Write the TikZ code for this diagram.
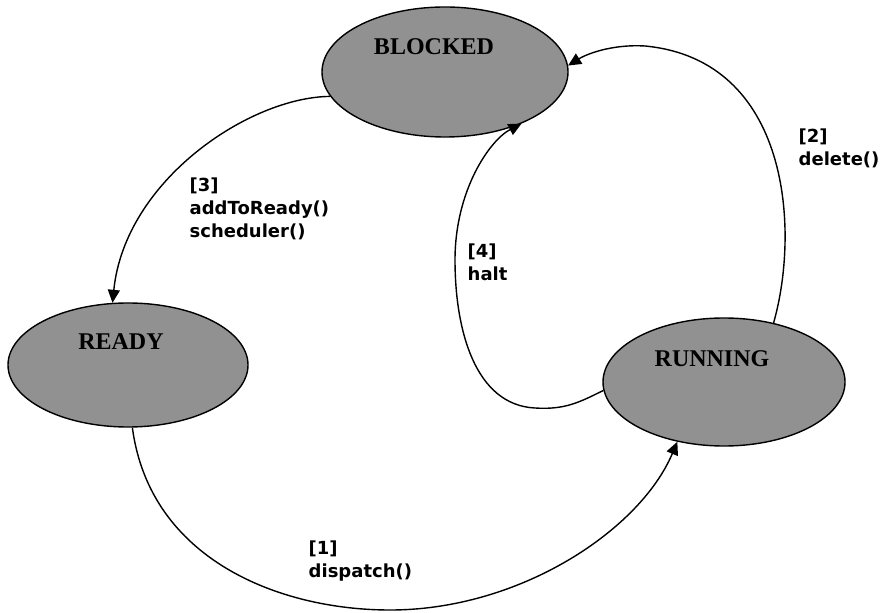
\documentclass[tikz,border=0pt]{standalone}
\usepackage{fontspec}
\setmainfont{Liberation Serif}
\newfontfamily\lblfont{DejaVu Sans}
\usepackage{tikz}
\usetikzlibrary{arrows.meta,shapes.geometric}
\definecolor{stategray}{RGB}{145,145,145}

\begin{document}
\begin{tikzpicture}[x=0.5pt,y=-0.5pt,line width=0.7pt,
  proc/.style={draw,ellipse,fill=stategray,inner sep=0pt},
  procname/.style={font=\bfseries\fontsize{12}{14}\selectfont,anchor=base,inner sep=0pt},
  lbl/.style={font=\lblfont\bfseries\fontsize{9}{11.5}\selectfont,align=left,anchor=north west,inner sep=0pt},
  arr/.style={-{Triangle[length=6.5pt,width=6pt]}}]
\useasboundingbox (0,0) rectangle (886,613);
\node[proc,minimum width=123pt,minimum height=65pt] (blocked) at (445,72) {};
\node[proc,minimum width=120pt,minimum height=62pt] (ready) at (128,365) {};
\node[proc,minimum width=121pt,minimum height=64pt] (running) at (724,382) {};
\node[procname] (blocked-txt) at (434,55) {BLOCKED};
\node[procname] (ready-txt) at (121,350) {READY};
\node[procname] (running-txt) at (712,367) {RUNNING};
\draw[arr] (blocked.192) .. controls (250,97) and (125,180) .. (ready.104);
\draw[arr] (ready.274) .. controls (150,560) and (280,610) .. (390,610) .. controls (520,610) and (640,530) .. (running.232);
\draw[arr] (running.184) .. controls (580,402) and (565,410) .. (535,408) .. controls (475,405) and (455,330) .. (455,260) .. controls (455,190) and (490,140) .. (blocked.-34);
\draw[arr] (running.50) .. controls (800,230) and (790,60) .. (645,46) .. controls (610,44) and (585,55) .. (blocked.3);
\node[lbl] (l3) at (189,177) {[3]\\addToReady()\\scheduler()};
\node[lbl] (l1) at (308,540) {[1]\\dispatch()};
\node[lbl] (l4) at (467,243) {[4]\\halt};
\node[lbl] (l2) at (798,128) {[2]\\delete()};
\end{tikzpicture}
\end{document}
